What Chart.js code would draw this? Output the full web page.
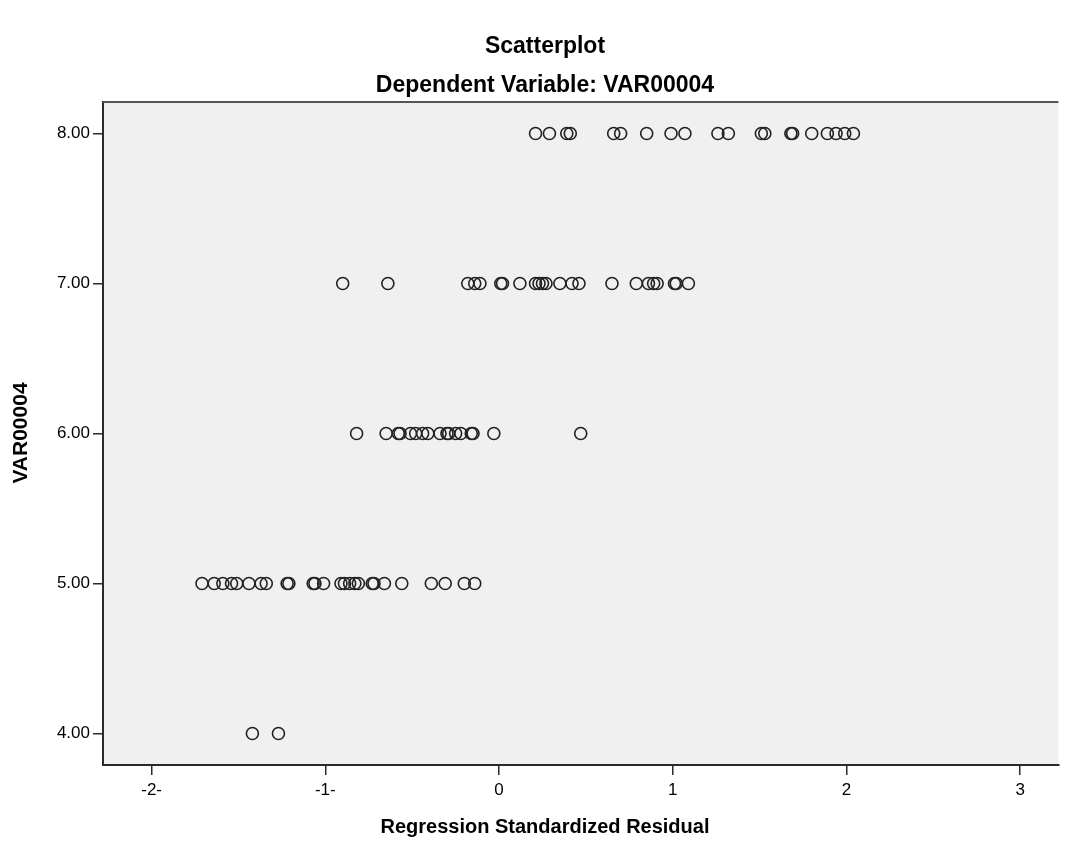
<!DOCTYPE html>
<html>
<head>
<meta charset="utf-8">
<script src="https://cdn.jsdelivr.net/npm/chart.js@4/dist/chart.umd.min.js"></script>
<style>
  html, body { margin: 0; padding: 0; background: #fff; }
  #wrap { width: 1066px; height: 843px; }
</style>
</head>
<body>
<div id="wrap"><canvas id="grafico" width="1066" height="843"></canvas></div>
<script>
// textos del gráfico
const titulo = "Scatterplot";
const subtitulo = "Dependent Variable: VAR00004";
const tituloX = "Regression Standardized Residual";
const tituloY = "VAR00004";

// ticks de los ejes
const ticksX = [-2, -1, 0, 1, 2, 3];
const etiquetasX = ["-2-", "-1-", "0", "1", "2", "3"];
const ticksY = [4, 5, 6, 7, 8];
const etiquetasY = ["4.00", "5.00", "6.00", "7.00", "8.00"];

// residuos estandarizados por valor de VAR00004
const residuos8 = [0.21, 0.29, 0.39, 0.41, 0.66, 0.70, 0.85, 0.99, 1.07, 1.26, 1.32, 1.51, 1.53, 1.68, 1.69, 1.80, 1.89, 1.94, 1.99, 2.04];
const residuos7 = [-0.90, -0.64, -0.18, -0.14, -0.11, 0.01, 0.02, 0.12, 0.21, 0.23, 0.25, 0.27, 0.35, 0.42, 0.46, 0.65, 0.79, 0.86, 0.89, 0.91, 1.01, 1.02, 1.09];
const residuos6 = [-0.82, -0.65, -0.58, -0.57, -0.51, -0.48, -0.44, -0.41, -0.34, -0.30, -0.29, -0.25, -0.22, -0.16, -0.15, -0.03, 0.47];
const residuos5 = [-1.71, -1.64, -1.59, -1.54, -1.51, -1.44, -1.37, -1.34, -1.22, -1.21, -1.07, -1.06, -1.01, -0.91, -0.89, -0.86, -0.83, -0.81, -0.73, -0.72, -0.66, -0.56, -0.39, -0.31, -0.20, -0.14];
const residuos4 = [-1.42, -1.27];

const grupos = [
  { y: 8, xs: residuos8 },
  { y: 7, xs: residuos7 },
  { y: 6, xs: residuos6 },
  { y: 5, xs: residuos5 },
  { y: 4, xs: residuos4 }
];

const puntos = [];
grupos.forEach(g => g.xs.forEach(x => puntos.push({ x: x, y: g.y })));

const fuente = "'Liberation Sans', Arial, sans-serif";

// fondo gris del área, borde superior y textos
const fondoPlugin = {
  id: 'fondo',
  beforeDraw(chart) {
    const { ctx, chartArea: a } = chart;
    ctx.save();
    ctx.fillStyle = '#ffffff';
    ctx.fillRect(0, 0, chart.width, chart.height);
    ctx.fillStyle = '#f0f0f0';
    ctx.fillRect(a.left, a.top, a.right - a.left, a.bottom - a.top);
    ctx.restore();
  },
  afterDraw(chart) {
    const { ctx, chartArea: a } = chart;
    ctx.save();
    ctx.strokeStyle = '#555';
    ctx.lineWidth = 2;
    ctx.beginPath();
    ctx.moveTo(a.left, a.top);
    ctx.lineTo(a.right, a.top);
    ctx.stroke();

    ctx.fillStyle = '#000';
    ctx.textAlign = 'center';
    ctx.textBaseline = 'middle';
    ctx.font = "bold 23px " + fuente;
    ctx.fillText(titulo, 545, 47);
    ctx.fillText(subtitulo, 545, 86);
    ctx.font = "bold 20px " + fuente;
    ctx.fillText(tituloX, 545, 827);
    ctx.translate(21, 433);
    ctx.rotate(-Math.PI / 2);
    ctx.font = "bold 21px " + fuente;
    ctx.fillText(tituloY, 0, 0);
    ctx.restore();
  }
};

new Chart(document.getElementById('grafico').getContext('2d'), {
  type: 'scatter',
  data: {
    datasets: [{
      data: puntos,
      pointStyle: 'circle',
      pointRadius: 6,
      pointHoverRadius: 6,
      borderWidth: 1.6,
      borderColor: '#222',
      backgroundColor: 'rgba(0,0,0,0)'
    }]
  },
  options: {
    responsive: false,
    animation: false,
    layout: { padding: { top: 102, left: 0, right: 0, bottom: 0 } },
    plugins: {
      legend: { display: false },
      tooltip: { enabled: false },
      title: { display: false }
    },
    scales: {
      x: {
        type: 'linear',
        min: -2.28,
        max: 3.22,
        afterBuildTicks: s => { s.ticks = ticksX.map(v => ({ value: v })); },
        afterFit: s => { s.height = 78; s.paddingLeft = 0; s.paddingRight = 0; },
        ticks: {
          autoSkip: false,
          maxRotation: 0,
          padding: 5,
          color: '#000',
          font: { family: fuente, size: 17 },
          callback: (v) => etiquetasX[ticksX.indexOf(v)]
        },
        grid: { drawOnChartArea: false, drawTicks: true, tickLength: 10, color: '#2b2b2b', lineWidth: 1.5 },
        border: { display: true, color: '#2b2b2b', width: 2 }
      },
      y: {
        type: 'linear',
        min: 3.79,
        max: 8.21,
        afterBuildTicks: s => { s.ticks = ticksY.map(v => ({ value: v })); },
        afterFit: s => { s.width = 103; s.paddingTop = 0; s.paddingBottom = 0; },
        ticks: {
          autoSkip: false,
          padding: 3,
          color: '#000',
          font: { family: fuente, size: 17 },
          callback: (v) => etiquetasY[ticksY.indexOf(v)]
        },
        grid: { drawOnChartArea: false, drawTicks: true, tickLength: 10, color: '#2b2b2b', lineWidth: 1.5 },
        border: { display: true, color: '#2b2b2b', width: 2 }
      }
    }
  },
  plugins: [fondoPlugin]
});
</script>
</body>
</html>
